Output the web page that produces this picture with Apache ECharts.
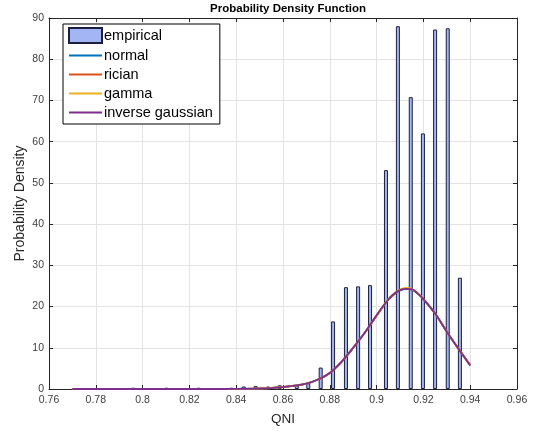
<!DOCTYPE html>
<html>
<head>
<meta charset="utf-8">
<script src="https://cdn.jsdelivr.net/npm/echarts@6/dist/echarts.min.js"></script>
<style>
html,body{margin:0;padding:0;background:#fff;}
#chart{width:541px;height:433px;}
</style>
</head>
<body>
<div id="chart"></div>
<script>
// Histogram (empirical) bins: centers and densities
var binCenters = [0.7960, 0.8102, 0.8240, 0.8379, 0.8432, 0.8483, 0.8536, 0.8586, 0.8659, 0.8708, 0.8761, 0.8814, 0.8869, 0.8921, 0.8972, 0.9040, 0.9091, 0.9146, 0.9198, 0.9250, 0.9304, 0.9356];
var binDensity = [0.3, 0.3, 0.3, 0.3, 0.6, 0.7, 0.6, 0.9, 0.9, 1.4, 5.2, 16.4, 24.7, 24.9, 25.2, 53.1, 88.0, 70.8, 62.0, 87.2, 87.5, 27.0];

// Fitted curves
var curveX    = [0.77, 0.78, 0.79, 0.80, 0.81, 0.82, 0.83, 0.84, 0.845, 0.85, 0.855, 0.86, 0.865, 0.87, 0.875, 0.88, 0.885, 0.89, 0.895, 0.90, 0.905, 0.9075, 0.91, 0.9125, 0.915, 0.9175, 0.92, 0.925, 0.93, 0.935, 0.94];
var normalY   = [0, 0, 0, 0, 0, 0, 0.01, 0.04, 0.08, 0.15, 0.28, 0.5, 0.8, 1.3, 2.3, 3.9, 6.6, 10.0, 13.7, 17.8, 21.7, 23.0, 23.9, 24.3, 24.1, 23.2, 21.8, 18.3, 13.9, 9.8, 5.8];
var ricianY   = [0, 0, 0, 0, 0, 0, 0.01, 0.03, 0.07, 0.14, 0.27, 0.5, 0.8, 1.3, 2.3, 3.9, 6.6, 10.0, 13.7, 17.8, 21.7, 23.0, 24.0, 24.4, 24.2, 23.2, 21.8, 18.3, 13.9, 9.8, 5.8];
var gammaY    = [0, 0, 0, 0, 0, 0, 0, 0.02, 0.05, 0.11, 0.23, 0.45, 0.8, 1.3, 2.3, 3.9, 6.6, 10.0, 13.7, 17.9, 21.8, 23.2, 24.1, 24.5, 24.3, 23.3, 21.9, 18.3, 13.9, 9.7, 5.7];
var invGaussY = [0, 0, 0, 0, 0, 0, 0, 0.02, 0.05, 0.11, 0.23, 0.45, 0.8, 1.3, 2.3, 3.9, 6.6, 10.0, 13.7, 17.9, 21.7, 23.1, 24.0, 24.3, 24.2, 23.2, 21.8, 18.3, 13.9, 9.7, 5.7];

var xTicksMin = 0.76, xTicksMax = 0.96, xStep = 0.02;
var yTicksMin = 0, yTicksMax = 90, yStep = 10;

function pairs(xs, ys){ return xs.map(function(x,i){ return [x, ys[i]]; }); }

var font = "'Liberation Sans', Arial, Helvetica, sans-serif";
var axisColor = '#262626';
var gridColor = '#e3e3e3';

var chart = echarts.init(document.getElementById('chart'), null, {renderer:'canvas'});
var lineSeries = function(name, data, color){
  return {
    name: name, type: 'line', data: data, xAxisIndex: 0, yAxisIndex: 0,
    showSymbol: false, symbol: 'none', smooth: 0.35,
    lineStyle: {color: color, width: 1.8},
    itemStyle: {color: color},
    z: 5
  };
};
var hiddenSym = {opacity: 0};
chart.setOption({
  animation: false,
  backgroundColor: '#ffffff',
  title: {
    text: 'Probability Density Function',
    left: 283, top: -2, textAlign: 'center',
    textStyle: {fontFamily: font, fontSize: 11.5, fontWeight: 'bold', color: '#000'}
  },
  grid: {left: 49, right: 24, top: 18, bottom: 44, containLabel: false},
  legend: {
    left: 63, top: 24, orient: 'vertical',
    backgroundColor: '#fff', borderColor: '#000', borderWidth: 1,
    padding: [3, 7, 4, 5],
    itemWidth: 33, itemHeight: 15, itemGap: 4,
    textStyle: {fontFamily: font, fontSize: 14.5, color: '#000', padding: [0, 0, 0, -3]},
    data: [
      {name: 'empirical', icon: 'rect'},
      {name: 'normal', itemStyle: hiddenSym},
      {name: 'rician', itemStyle: hiddenSym},
      {name: 'gamma', itemStyle: hiddenSym},
      {name: 'inverse gaussian', itemStyle: hiddenSym}
    ]
  },
  xAxis: [{
    type: 'value', min: xTicksMin, max: xTicksMax, interval: xStep,
    name: 'QNI', nameLocation: 'middle', nameGap: 23, nameMoveOverlap: false,
    nameTextStyle: {fontFamily: font, fontSize: 13.5, color: '#262626'},
    axisLine: {show: true, onZero: false, lineStyle: {color: axisColor, width: 1}},
    axisTick: {show: true, inside: true, length: 4, lineStyle: {color: axisColor}},
    axisLabel: {fontFamily: font, fontSize: 10.5, color: '#404040', margin: 6,
      formatter: function(v){ return String(parseFloat(v.toFixed(2))); }},
    splitLine: {show: true, lineStyle: {color: gridColor, width: 1}}
  }, {
    type: 'value', min: xTicksMin, max: xTicksMax, interval: xStep, position: 'top',
    axisLine: {show: true, onZero: false, lineStyle: {color: axisColor, width: 1}},
    axisTick: {show: true, inside: true, length: 4, lineStyle: {color: axisColor}},
    axisLabel: {show: false}, splitLine: {show: false}
  }],
  yAxis: [{
    type: 'value', min: yTicksMin, max: yTicksMax, interval: yStep,
    name: 'Probability Density', nameLocation: 'middle', nameGap: 22, nameMoveOverlap: false,
    nameTextStyle: {fontFamily: font, fontSize: 14, color: '#262626'},
    axisLine: {show: true, onZero: false, lineStyle: {color: axisColor, width: 1}},
    axisTick: {show: true, inside: true, length: 4, lineStyle: {color: axisColor}},
    axisLabel: {fontFamily: font, fontSize: 10.5, color: '#404040', margin: 5},
    splitLine: {show: true, lineStyle: {color: gridColor, width: 1}}
  }, {
    type: 'value', min: yTicksMin, max: yTicksMax, interval: yStep, position: 'right',
    axisLine: {show: true, onZero: false, lineStyle: {color: axisColor, width: 1}},
    axisTick: {show: true, inside: true, length: 4, lineStyle: {color: axisColor}},
    axisLabel: {show: false}, splitLine: {show: false}
  }],
  series: [
    {
      name: 'empirical', type: 'bar', xAxisIndex: 0, yAxisIndex: 0,
      data: pairs(binCenters, binDensity),
      barWidth: 4,
      itemStyle: {color: '#a3b6f3', borderColor: '#1c1f3f', borderWidth: 1},
      z: 2
    },
    lineSeries('normal', pairs(curveX, normalY), '#0072BD'),
    lineSeries('rician', pairs(curveX, ricianY), '#D95319'),
    lineSeries('gamma', pairs(curveX, gammaY), '#EDB120'),
    lineSeries('inverse gaussian', pairs(curveX, invGaussY), '#7E2F8E')
  ]
});
</script>
</body>
</html>
